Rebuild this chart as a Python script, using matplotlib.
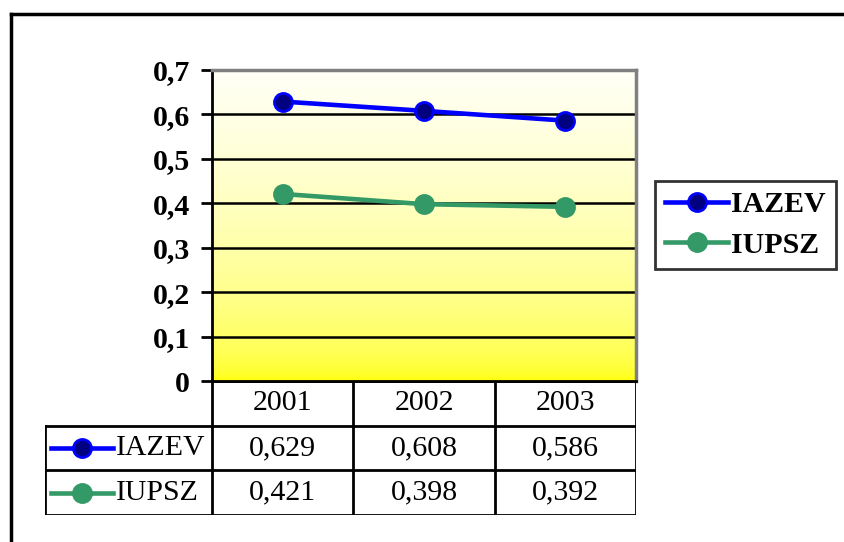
import numpy as np
import matplotlib
matplotlib.use("Agg")
import matplotlib.pyplot as plt
from matplotlib.lines import Line2D
from matplotlib.colors import ListedColormap

years = ["2001", "2002", "2003"]
iazev = [0.629, 0.608, 0.586]
iupsz = [0.421, 0.398, 0.392]
series_names = ["IAZEV", "IUPSZ"]
yticks = [0, 0.1, 0.2, 0.3, 0.4, 0.5, 0.6, 0.7]

plt.rcParams['font.family'] = ['Liberation Serif', 'DejaVu Serif']
FS = 21.5

W, H = 844, 542
fig = plt.figure(figsize=(W / 100, H / 100), dpi=100)


def px(l, t, r, b):
    return [l / W, 1 - b / H, (r - l) / W, (b - t) / H]


line_st = [dict(color="#0000FF", lw=3.3), dict(color="#339966", lw=3.3)]
mark_st = [
    dict(marker="o", markerfacecolor="#000080", markeredgecolor="#0000FF",
         markeredgewidth=2, markersize=13),
    dict(marker="o", markerfacecolor="#339966", markeredgecolor="#339966",
         markeredgewidth=2, markersize=13),
]

# main plot
ax = fig.add_axes(px(212, 70, 636, 381))
x = np.arange(1, len(years) + 1)
ax.set_xlim(0.5, len(years) + 0.5)
ax.set_ylim(0, 0.7)

# white at the top fading into yellow at the bottom
t = np.linspace(0, 1, 256)
blue = 0.97 * t ** 0.45
cmap = ListedColormap(np.column_stack([np.ones_like(t), np.ones_like(t), blue]))
ax.imshow(t.reshape(-1, 1), cmap=cmap, aspect="auto", origin="lower",
          extent=[0.5, len(years) + 0.5, 0, 0.7], zorder=0)

for v in yticks[1:-1]:
    ax.axhline(v, color="black", lw=1.8, zorder=1)

handles = []
for vals, name, ls, ms in zip([iazev, iupsz], series_names, line_st, mark_st):
    h, = ax.plot(x, vals, label=name, zorder=3, **ls, **ms)
    handles.append(h)

ax.set_yticks(yticks)
ax.set_yticklabels([("%g" % v).replace(".", ",") for v in yticks],
                   fontsize=FS, fontweight="bold")
ax.set_xticks([])
ax.tick_params(axis="y", length=8, width=2, pad=8)
ax.spines["left"].set_linewidth(2)
ax.spines["bottom"].set_linewidth(2)
for s in ["top", "right"]:
    ax.spines[s].set_color("#808080")
    ax.spines[s].set_linewidth(2.5)

# data table under the plot
tax = fig.add_axes(px(45, 381, 636, 515))
unit = 424 / 3
left_x = 0.5 - (212 - 45) / unit
tax.set_xlim(left_x, len(years) + 0.5)
tax.set_ylim(3, 0)
tax.axis("off")
lk = dict(color="black", lw=2, solid_capstyle="projecting")
tax.plot([0.5, len(years) + 0.5], [0, 0], **lk)
for r in [1, 2, 3]:
    tax.plot([left_x, len(years) + 0.5], [r, r], **lk)
for c in range(len(years) + 1):
    tax.plot([c + 0.5, c + 0.5], [0, 3], **lk)
tax.plot([left_x, left_x], [1, 3], **lk)

for i, yr in enumerate(years):
    tax.text(i + 1, 0.5, yr, ha="center", va="center", fontsize=FS)
for r, (vals, name) in enumerate(zip([iazev, iupsz], series_names)):
    for i, v in enumerate(vals):
        tax.text(i + 1, r + 1.5, ("%.3f" % v).replace(".", ","),
                 ha="center", va="center", fontsize=FS)
    x0 = left_x + 6 / unit
    x1 = x0 + 62 / unit
    tax.plot([x0, x1], [r + 1.5, r + 1.5], **line_st[r])
    tax.plot([(x0 + x1) / 2], [r + 1.5], lw=0, **mark_st[r])
    tax.text(x1 + 3 / unit, r + 1.5, name, ha="left", va="center", fontsize=FS)

# legend on the right
leg = fig.legend(handles=handles, loc="upper left",
                 bbox_to_anchor=(655 / W, 1 - 181 / H),
                 prop=dict(size=FS, weight="bold"),
                 frameon=True, fancybox=False, edgecolor="black",
                 handlelength=2.1, handletextpad=0.1, borderpad=0.35,
                 labelspacing=0.45, borderaxespad=0)
leg.get_frame().set_linewidth(2)

# outer chart frame (top and left)
fig.add_artist(Line2D([11 / W, 1], [1 - 14 / H, 1 - 14 / H], color="black", lw=2.5))
fig.add_artist(Line2D([11 / W, 11 / W], [0, 1 - 14 / H], color="black", lw=2.5))

fig.savefig("out.png", dpi=100)
